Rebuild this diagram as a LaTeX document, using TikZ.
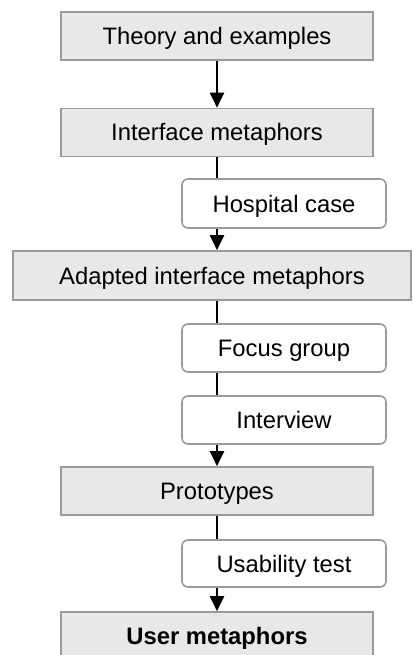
\documentclass[tikz,border=0pt]{standalone}
\usepackage{fontspec}
\setmainfont{Liberation Sans}
\usetikzlibrary{arrows.meta}
\definecolor{boxfill}{HTML}{E8E8E8}
\definecolor{boxline}{HTML}{9A9A9A}
\tikzset{
  boxtext/.style={font=\fontsize{23.8}{26}\selectfont, text height=17pt, text depth=0pt},
  stage/.style={boxtext, draw=boxline, fill=boxfill, line width=1.6pt, inner sep=0pt,
    minimum width=312pt, minimum height=48pt},
  method/.style={boxtext, draw=boxline, fill=white, line width=1.6pt, rounded corners=6pt, inner sep=0pt,
    minimum width=204pt, minimum height=48pt},
  flow/.style={line width=2pt, black},
  flowarrow/.style={flow, -{Triangle[length=15pt,width=14pt]}}
}
\begin{document}
\begin{tikzpicture}[x=1pt, y=-1pt]
  \useasboundingbox (0,0) rectangle (412,655);
  % main stages
  \node[stage] (theory) at (217,36) {Theory and examples};
  \node[stage] (iface) at (217,132.5) {Interface metaphors};
  \node[stage, minimum width=398pt, minimum height=49pt] (adapted) at (212,275.5) {Adapted interface metaphors};
  \node[stage] (proto) at (217,491) {Prototypes};
  \node[stage] (user) at (217,636) {\bfseries User metaphors};
  % methods
  \node[method, minimum height=49pt] (hospital) at (284,203.5) {Hospital case};
  \node[method] (focus) at (284,348) {Focus group};
  \node[method] (interview) at (284,420) {Interview};
  \node[method, minimum height=47pt] (usability) at (284,563.5) {Usability test};
  % flow along the left column
  \draw[flowarrow] (theory.south) -- (iface.north);
  \draw[flow] (iface.south) -- (iface.south |- hospital.north);
  \draw[flowarrow] (iface.south |- hospital.south) -- (iface.south |- adapted.north);
  \draw[flow] (iface.south |- adapted.south) -- (iface.south |- focus.north);
  \draw[flow] (iface.south |- focus.south) -- (iface.south |- interview.north);
  \draw[flowarrow] (iface.south |- interview.south) -- (proto.north);
  \draw[flow] (proto.south) -- (proto.south |- usability.north);
  \draw[flowarrow] (proto.south |- usability.south) -- (user.north);
\end{tikzpicture}
\end{document}
